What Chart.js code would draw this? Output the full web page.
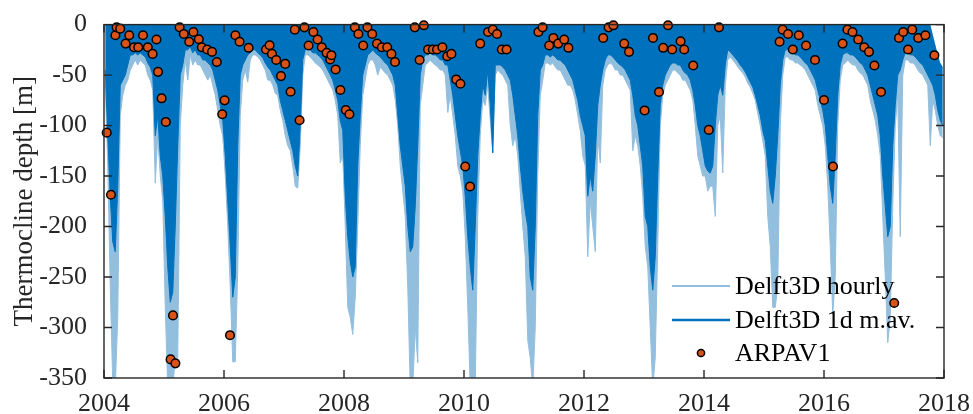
<!DOCTYPE html>
<html>
<head>
<meta charset="utf-8">
<script src="https://cdn.jsdelivr.net/npm/chart.js@4.4.0/dist/chart.umd.min.js"></script>
<style>
  html, body { margin: 0; padding: 0; background: #fff; }
  #wrap { width: 973px; height: 414px; }
</style>
</head>
<body>
<div id="wrap"><canvas id="myChart" width="973" height="414"></canvas></div>
<script>
// half-month bins, 24 per year, 2004..2017 (values in m)
const startYear = 2004;
const binsPerYear = 24;

// lower envelope of the 1d moving average
const dailyLow = [
  -45,-110,-170,-215,-225,-160,-60,-55,-50,-40,-30,-30,-28,-30,-28,-30,-32,-38,-42,-50,-110,-90,-130,-150,
  -190,-240,-275,-265,-200,-120,-50,-40,-25,-25,-22,-28,-25,-30,-30,-35,-35,-38,-40,-45,-55,-65,-80,-95,
  -130,-175,-220,-270,-250,-120,-50,-40,-35,-30,-28,-25,-25,-28,-30,-33,-38,-42,-45,-50,-55,-60,-75,-85,
  -95,-105,-115,-125,-140,-150,-100,-35,-25,-22,-25,-28,-28,-30,-32,-35,-40,-45,-50,-55,-65,-75,-95,-105,
  -170,-210,-235,-250,-240,-140,-90,-50,-40,-30,-28,-25,-28,-30,-32,-35,-38,-40,-45,-50,-60,-90,-120,-140,
  -160,-200,-225,-220,-180,-120,-50,-35,-30,-30,-28,-30,-30,-32,-35,-35,-40,-40,-55,-70,-90,-110,-125,-140,
  -170,-210,-240,-263,-200,-130,-90,-60,-70,-45,-80,-127,-40,-40,-40,-42,-45,-50,-55,-70,-90,-110,-140,-165,
  -185,-200,-250,-263,-200,-90,-45,-40,-30,-30,-32,-30,-32,-35,-35,-38,-40,-45,-50,-55,-65,-75,-90,-100,
  -110,-170,-150,-165,-130,-80,-60,-45,-35,-30,-30,-32,-35,-38,-40,-42,-45,-50,-55,-70,-90,-100,-120,-140,
  -190,-200,-240,-263,-230,-150,-80,-60,-50,-45,-40,-38,-38,-40,-40,-45,-48,-50,-55,-65,-80,-100,-110,-125,
  -140,-145,-147,-140,-100,-70,-60,-70,-40,-25,-27,-30,-33,-36,-40,-43,-47,-52,-57,-62,-70,-80,-90,-105,
  -115,-140,-165,-177,-150,-110,-60,-35,-25,-25,-27,-28,-30,-30,-32,-35,-38,-40,-45,-50,-55,-65,-75,-85,
  -100,-130,-160,-177,-130,-70,-40,-30,-28,-28,-30,-30,-32,-35,-38,-40,-45,-50,-60,-70,-80,-90,-110,-150,
  -180,-210,-200,-120,-80,-50,-45,-35,-28,-28,-30,-30,-32,-35,-38,-40,-45,-50,-55,-60,-70,-85,-95,-100
];

// upper envelope (at the surface except late 2017)
const dailyTop = [
  0,0,0,0,0,0,0,0,0,0,0,0,0,0,0,0,0,0,0,0,0,0,0,0,
  0,0,0,0,0,0,0,0,0,0,0,0,0,0,0,0,0,0,0,0,0,0,0,0,
  0,0,0,0,0,0,0,0,0,0,0,0,0,0,0,0,0,0,0,0,0,0,0,0,
  0,0,0,0,0,0,0,0,0,0,0,0,0,0,0,0,0,0,0,0,0,0,0,0,
  0,0,0,0,0,0,0,0,0,0,0,0,0,0,0,0,0,0,0,0,0,0,0,0,
  0,0,0,0,0,0,0,0,0,0,0,0,0,0,0,0,0,0,0,0,0,0,0,0,
  0,0,0,0,0,0,0,0,0,0,0,0,0,0,0,0,0,0,0,0,0,0,0,0,
  0,0,0,0,0,0,0,0,0,0,0,0,0,0,0,0,0,0,0,0,0,0,0,0,
  0,0,0,0,0,0,0,0,0,0,0,0,0,0,0,0,0,0,0,0,0,0,0,0,
  0,0,0,0,0,0,0,0,0,0,0,0,0,0,0,0,0,0,0,0,0,0,0,0,
  0,0,0,0,0,0,0,0,0,0,0,0,0,0,0,0,0,0,0,0,0,0,0,0,
  0,0,0,0,0,0,0,0,0,0,0,0,0,0,0,0,0,0,0,0,0,0,0,0,
  0,0,0,0,0,0,0,0,0,0,0,0,0,0,0,0,0,0,0,0,0,0,0,0,
  0,0,0,0,0,0,0,0,0,0,0,0,0,0,0,0,0,0,0,-10,-20,-30,-38,-42
];

// deepest hourly values in each bin
const hourlyLow = [
  -60,-140,-260,-354,-360,-290,-90,-70,-60,-55,-45,-40,-35,-40,-35,-38,-40,-50,-55,-65,-157,-110,-150,-175,
  -280,-360,-360,-360,-330,-330,-100,-60,-35,-55,-30,-40,-35,-40,-40,-45,-50,-55,-50,-60,-70,-85,-100,-110,
  -150,-200,-260,-334,-334,-243,-90,-55,-45,-57,-35,-30,-30,-32,-35,-40,-45,-55,-55,-60,-68,-70,-85,-95,
  -110,-120,-125,-140,-160,-162,-120,-50,-30,-30,-32,-35,-38,-40,-42,-45,-50,-55,-60,-65,-75,-90,-137,-130,
  -200,-280,-290,-307,-270,-200,-120,-70,-55,-40,-35,-35,-40,-50,-42,-45,-48,-50,-55,-60,-75,-100,-140,-165,
  -190,-260,-360,-360,-300,-335,-80,-60,-40,-38,-35,-38,-40,-42,-45,-45,-50,-87,-70,-90,-110,-140,-150,-165,
  -210,-280,-360,-360,-360,-190,-110,-75,-80,-60,-95,-127,-50,-45,-48,-50,-55,-60,-100,-120,-110,-130,-165,-200,
  -230,-313,-330,-360,-300,-150,-70,-55,-38,-38,-40,-38,-42,-45,-45,-50,-55,-60,-60,-65,-75,-90,-105,-130,
  -140,-230,-175,-200,-225,-110,-137,-60,-45,-40,-38,-40,-45,-45,-50,-50,-55,-60,-65,-125,-110,-120,-140,-170,
  -220,-240,-300,-360,-330,-220,-100,-70,-60,-55,-50,-45,-45,-48,-50,-55,-55,-60,-65,-75,-100,-130,-140,-150,
  -150,-165,-160,-160,-190,-100,-90,-147,-60,-35,-32,-35,-38,-42,-45,-48,-52,-58,-62,-68,-75,-88,-100,-115,
  -130,-190,-220,-280,-280,-260,-100,-50,-32,-32,-35,-35,-38,-38,-40,-42,-45,-50,-55,-60,-65,-80,-90,-100,
  -120,-160,-220,-287,-250,-100,-55,-40,-38,-35,-38,-40,-40,-45,-48,-50,-55,-60,-75,-85,-95,-110,-130,-190,
  -250,-315,-290,-180,-100,-70,-210,-50,-35,-35,-38,-38,-40,-45,-48,-50,-55,-60,-120,-75,-85,-100,-110,-112
];

// ARPAV1 observations
const arpavYear = [
  2004.045,2004.116,2004.19,2004.21,2004.27,2004.36,2004.42,2004.50,2004.57,2004.65,2004.73,2004.81,2004.875,2004.90,2004.96,
  2005.03,2005.11,2005.15,2005.19,2005.26,2005.33,2005.42,2005.49,2005.58,2005.63,2005.72,2005.80,2005.88,2005.97,
  2006.01,2006.10,2006.19,2006.26,2006.41,2006.70,2006.76,2006.80,2006.87,2006.95,
  2007.02,2007.11,2007.18,2007.26,2007.34,2007.41,2007.49,2007.56,2007.63,2007.71,2007.77,2007.79,2007.86,2007.94,
  2008.03,2008.09,2008.18,2008.24,2008.32,2008.39,2008.47,2008.55,2008.63,2008.72,2008.79,2008.85,
  2009.18,2009.26,2009.33,2009.40,2009.48,2009.55,2009.64,2009.72,2009.79,2009.87,2009.94,
  2010.02,2010.10,2010.27,2010.40,2010.48,2010.55,2010.63,2010.71,
  2011.24,2011.31,2011.42,2011.49,2011.57,2011.67,2011.74,
  2012.32,2012.41,2012.49,2012.67,2012.75,
  2013.01,2013.15,2013.25,2013.32,2013.40,2013.47,2013.61,2013.67,2013.82,
  2014.08,2014.25,
  2015.26,2015.31,2015.40,2015.48,2015.58,2015.70,2015.85,
  2016.00,2016.15,2016.31,2016.39,2016.475,2016.57,2016.67,2016.75,2016.84,2016.95,
  2017.17,2017.25,2017.32,2017.40,2017.47,2017.57,2017.69,2017.84
];
const arpavDepth = [
  -107,-168.5,-10.6,-2.7,-4,-18.8,-10.6,-22.4,-22.4,-10.6,-22.4,-29,-14.8,-46.8,-73,
  -96.4,-331.6,-288,-335.5,-2.7,-9.3,-17,-7.3,-14.5,-22.4,-24.7,-27,-37,-88.8,
  -75,-307.6,-10.6,-17,-23,-24.7,-20.4,-29,-35,-51,
  -38.9,-66.5,-5,-94.7,-2.7,-20.7,-7.3,-14.8,-22.4,-28,-34.5,-30.3,-44.4,-64.8,
  -84.6,-88.8,-2.7,-9.3,-20.7,-2.7,-9.3,-18.8,-22.4,-22.4,-29,-37,
  -2.7,-35,-0.7,-24.7,-24.7,-24.7,-22.4,-31.3,-29,-54.3,-58.6,
  -140.5,-160.3,-18.8,-7.3,-5,-9.3,-24.7,-24.7,
  -7.3,-2.7,-20.7,-13.2,-18.8,-14.8,-23,
  -13.2,-2.7,-0.7,-18.8,-27,
  -85,-13.2,-66.8,-23,-0.7,-24.7,-16.5,-24.7,-40.5,
  -104.3,-2.7,
  -17,-5,-9.3,-24.7,-10.6,-20.7,-35,
  -74.7,-140.5,-18.8,-5,-7.3,-14.8,-22.4,-27,-40.5,-66.8,
  -275.7,-13.2,-7.3,-24.7,-5,-13.2,-10.6,-30.3
];

const seriesNames = ['Delft3D hourly', 'Delft3D 1d m.av.', 'ARPAV1'];
const xTicks = { min: 2004, max: 2018, step: 2 };
const yTicks = { min: -350, max: 0, step: 50 };

const lightBlue = '#93bfdf';
const darkBlue = '#0072bd';
const orange = '#d95319';
const axisColor = '#262626';
const fontFamily = '"Liberation Serif", "Times New Roman", serif';

// one point per bin, at the bin centre
const binX = k => startYear + (k + 0.5) / binsPerYear;
const dailyPts = dailyLow.map((v, k) => ({ x: binX(k), y: v }));
const hourlyPts = hourlyLow.map((v, k) => ({ x: binX(k), y: v }));
const topPts = dailyTop.map((v, k) => ({ x: binX(k), y: v }));
const arpavPts = arpavYear.map((x, i) => ({ x: x, y: arpavDepth[i] }));

// box round the axes with ticks pointing inwards, as in the original
const boxPlugin = {
  id: 'box',
  afterDraw(chart) {
    const { ctx, chartArea: a, scales } = chart;
    ctx.save();
    ctx.strokeStyle = axisColor;
    ctx.lineWidth = 1.4;
    ctx.strokeRect(a.left, a.top, a.right - a.left, a.bottom - a.top);
    const len = 8;
    ctx.beginPath();
    scales.x.ticks.forEach(t => {
      const px = scales.x.getPixelForValue(t.value);
      ctx.moveTo(px, a.bottom); ctx.lineTo(px, a.bottom - len);
      ctx.moveTo(px, a.top); ctx.lineTo(px, a.top + len);
    });
    scales.y.ticks.forEach(t => {
      const py = scales.y.getPixelForValue(t.value);
      ctx.moveTo(a.left, py); ctx.lineTo(a.left + len, py);
      ctx.moveTo(a.right, py); ctx.lineTo(a.right - len, py);
    });
    ctx.stroke();
    ctx.restore();
  }
};

// legend in the lower right corner of the axes
const legendPlugin = {
  id: 'cornerLegend',
  afterDraw(chart) {
    const { ctx, chartArea: a } = chart;
    const x1 = a.right - 272, x2 = a.right - 214, tx = a.right - 209;
    const rows = [a.bottom - 92, a.bottom - 58, a.bottom - 25];
    ctx.save();
    ctx.font = '26px ' + fontFamily;
    ctx.textBaseline = 'middle';
    ctx.lineCap = 'butt';
    ctx.strokeStyle = lightBlue; ctx.lineWidth = 2;
    ctx.beginPath(); ctx.moveTo(x1, rows[0]); ctx.lineTo(x2, rows[0]); ctx.stroke();
    ctx.strokeStyle = darkBlue; ctx.lineWidth = 2.5;
    ctx.beginPath(); ctx.moveTo(x1, rows[1]); ctx.lineTo(x2, rows[1]); ctx.stroke();
    ctx.beginPath(); ctx.arc((x1 + x2) / 2, rows[2], 3.6, 0, Math.PI * 2);
    ctx.fillStyle = orange; ctx.fill();
    ctx.strokeStyle = '#000'; ctx.lineWidth = 1.5; ctx.stroke();
    ctx.fillStyle = '#000';
    seriesNames.forEach((name, i) => ctx.fillText(name, tx, rows[i] + 1));
    ctx.restore();
  }
};

const ctx = document.getElementById('myChart').getContext('2d');
const myChart = new Chart(ctx, {
  type: 'line',
  data: {
    datasets: [
      {
        label: seriesNames[2], data: arpavPts, order: 1, clip: false, showLine: false,
        pointRadius: 4.3, pointBorderWidth: 1.5,
        pointBackgroundColor: orange, pointBorderColor: '#000'
      },
      {
        label: seriesNames[1], data: dailyPts, order: 2,
        borderColor: darkBlue, backgroundColor: darkBlue, borderWidth: 1,
        fill: 2, pointRadius: 0, tension: 0
      },
      {
        label: 'top', data: topPts, order: 4,
        borderColor: 'rgba(0,0,0,0)', borderWidth: 0, pointRadius: 0, fill: false
      },
      {
        label: seriesNames[0], data: hourlyPts, order: 3,
        borderColor: lightBlue, backgroundColor: lightBlue, borderWidth: 1,
        fill: 2, pointRadius: 0, tension: 0
      }
    ]
  },
  options: {
    responsive: false,
    animation: false,
    devicePixelRatio: 1,
    layout: { padding: { top: 23, right: 27, bottom: 0, left: 0 } },
    plugins: { legend: { display: false }, tooltip: { enabled: false } },
    scales: {
      x: {
        type: 'linear', min: xTicks.min, max: xTicks.max,
        grid: { display: false }, border: { display: false },
        ticks: {
          stepSize: xTicks.step, padding: 3, color: axisColor,
          font: { family: fontFamily, size: 26 },
          callback: v => String(v)
        },
        afterFit: s => { s.height = 36; }
      },
      y: {
        min: yTicks.min, max: yTicks.max,
        grid: { display: false }, border: { display: false },
        ticks: {
          stepSize: yTicks.step, padding: 9, color: axisColor,
          font: { family: fontFamily, size: 26 }
        },
        title: {
          display: true, text: 'Thermocline depth [m]', color: axisColor,
          font: { family: fontFamily, size: 27 }, padding: { top: 9, bottom: 0 }
        },
        afterFit: s => { s.width = 104; }
      }
    }
  },
  plugins: [boxPlugin, legendPlugin]
});
</script>
</body>
</html>
